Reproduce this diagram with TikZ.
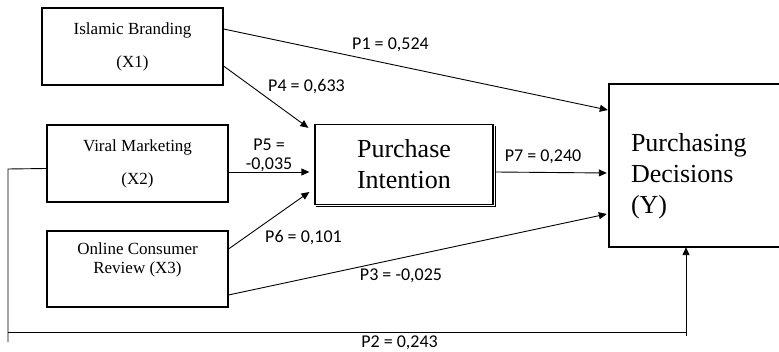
\documentclass[tikz,border=0pt]{standalone}
\usepackage{fontspec}
\setmainfont{Liberation Serif}
\newfontfamily\calibri{Carlito}
\usepackage{tikz}
\usetikzlibrary{arrows.meta}

\begin{document}
\begin{tikzpicture}[x=1pt,y=-1pt]
  \tikzstyle{varbox}=[draw,line width=1.1pt,rectangle,inner sep=2pt,align=center,font=\fontsize{17}{33}\selectfont]
  \tikzstyle{big box}=[rectangle,inner sep=2pt,font=\fontsize{26}{31}\selectfont]
  \tikzstyle{path arrow}=[line width=0.9pt,-{Triangle[length=8pt,width=7pt]}]
  \tikzstyle{coefficient}=[inner sep=0pt,font=\calibri\fontsize{18}{19}\selectfont]

    \useasboundingbox (0,0) rectangle (779,352);

    \node [varbox, minimum width=181pt, minimum height=77pt] (X1) at (132.5,46.5) {Islamic Branding\\(X1)};
    \node [varbox, minimum width=181pt, minimum height=77pt] (X2) at (137.5,163.5) {Viral Marketing\\(X2)};
    \node [varbox, minimum width=181pt, minimum height=76pt, font=\fontsize{17}{19}\selectfont] (X3) at (137.5,269)
      {Online Consumer\\Review (X3)\rule[-22pt]{0pt}{0pt}};

    \node [big box, draw, line width=1.3pt, align=center, minimum width=178pt, minimum height=80pt] (PI) at (404,164.5) {Purchase\\Intention};
    \draw [line width=1pt] ([xshift=2pt,yshift=-2pt]PI.north east) -- ([xshift=2pt,yshift=-1pt]PI.south east) -- ([xshift=2pt,yshift=-1pt]PI.south west);

    % right side of this box lies outside the page
    \node [big box, align=left, text width=256pt, minimum width=300pt, minimum height=163pt] (PD) at (759,165.5)
      {\rule{0pt}{40pt}Purchasing\\Decisions\\(Y)};
    \draw [line width=2.4pt] (PD.north east) -- (PD.north west) -- (PD.south west) -- (PD.south east);

    \draw [path arrow] ([yshift=17.5pt]X1.east) -- ([xshift=-1pt,yshift=55.5pt]PD.west);
    \draw [path arrow] ([yshift=-19.5pt]X1.east) -- ([xshift=-6pt,yshift=-4pt]PI.north west);
    \draw [path arrow] ([yshift=-8.5pt]X2.east) -- ([xshift=-5pt,yshift=-7.5pt]PI.west);
    \draw [path arrow] ([yshift=20pt]X3.east) -- ([xshift=-5pt,yshift=-27.5pt]PI.west);
    \draw [path arrow] ([yshift=-26pt]X3.east) -- ([xshift=-2pt,yshift=-48.5pt]PD.west);
    \draw [path arrow] ([xshift=2pt,yshift=-7.5pt]PI.east) -- ([xshift=-2pt,yshift=-7.5pt]PD.west);

    \coordinate (L1) at (8,169);
    \coordinate (L2) at (8,342);
    \coordinate (B1) at (8,332);
    \coordinate (B2) at (686,332);
    \coordinate (B3) at (686,336);
    \draw [line width=0.9pt] ([yshift=-5pt]X2.west) -- (L1) -- (L2);
    \draw [line width=0.9pt] (B1) -- (B2);
    \draw [path arrow] (B3) -- ([xshift=-73pt]PD.south);

    \node [coefficient, anchor=base] (P1) at (390.5,50) {P1 = 0,524};
    \node [coefficient, anchor=base] (P4) at (306.5,92) {P4 = 0,633};
    \node [coefficient, align=center] (P5) at (269,155) {P5 =\\-0,035};
    \node [coefficient, anchor=base] (P6) at (303.5,243) {P6 = 0,101};
    \node [coefficient, anchor=base] (P3) at (401,281) {P3 = -0,025};
    \node [coefficient, anchor=base] (P7) at (543,162) {P7 = 0,240};
    \node [coefficient, anchor=base] (P2) at (399.5,348) {P2 = 0,243};
\end{tikzpicture}
\end{document}
